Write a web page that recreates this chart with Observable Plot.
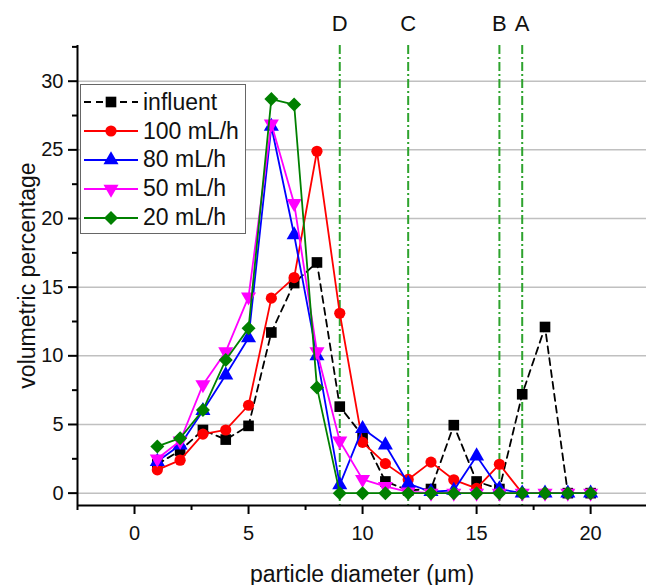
<!DOCTYPE html>
<html><head><meta charset="utf-8">
<script src="https://cdn.jsdelivr.net/npm/d3@7"></script>
<script src="https://cdn.jsdelivr.net/npm/@observablehq/plot@0.6"></script>
<style>
body{margin:0;background:#fff;font-family:"Liberation Sans",Arial,sans-serif}
#wrap{position:relative;width:646px;height:585px}
#legend{position:absolute;left:80px;top:84px;width:166px;height:150px;border:1.5px solid #666;background:#fff;box-sizing:border-box;padding-top:3px}
.item{display:flex;align-items:center;height:28.8px}
.item svg{margin-left:2px;margin-right:4px}
.item span{font-size:23px;color:#111;line-height:1}
</style></head><body><div id="wrap"><div id="legend"></div></div>
<script>
const diameters = [1,2,3,4,5,6,7,8,9,10,11,12,13,14,15,16,17,18,19,20];
const seriesNames = ["influent","100 mL/h","80 mL/h","50 mL/h","20 mL/h"];
const influent = [2.1,3.1,4.6,3.9,4.9,11.7,15.3,16.8,6.3,4.2,0.85,0.2,0.3,4.95,0.85,0.3,7.2,12.1,0,0];
const f100 = [1.7,2.4,4.3,4.6,6.4,14.2,15.7,24.9,13.1,3.7,2.15,1.0,2.26,0.97,0.35,2.1,0,0,0,0];
const f80 = [2.3,3.5,6.0,8.6,11.3,26.7,18.8,10.0,0.6,4.7,3.5,0.7,0.1,0.2,2.7,0.3,0,0,0,0];
const f50 = [2.5,3.8,7.9,10.3,14.3,26.9,21.1,10.3,3.8,1.0,0.5,0.1,0,0,0,0,0,0,0,0];
const f20 = [3.4,4.0,6.05,9.7,12.0,28.7,28.3,7.7,0,0,0,0,0,0,0,0,0,0,0,0];
const seriesValues = [influent,f100,f80,f50,f20];
const seriesColors = ["#000000","#ff0000","#0000ff","#ff00ff","#008000"];
const seriesSymbols = ["square","circle","triangle","triangle","diamond2"];
const seriesRotate = [0,0,0,180,0];
const seriesRadius = [6,5.6,5.6,5.6,6.3];
const seriesDash = ["7,5",null,null,null,null];
const zoneX = [9,12,16,17];
const zoneLabels = ["D","C","B","A"];
const xTicks = [0,5,10,15,20];
const xMinor = [-2.5,2.5,7.5,12.5,17.5];
const yTicks = [0,5,10,15,20,25,30];
const yMinor = [2.5,7.5,12.5,17.5,22.5,27.5,32.5];
const xDomain = [-2.5,22.45];
const yDomain = [-0.9,32.6];
const xTitle = "particle diameter (\u03bcm)";
const yTitle = "volumetric percentage";

const font = "Liberation Sans, Arial, sans-serif";
const marks = [
  Plot.gridY(yTicks, {stroke:"#c0c0c0", strokeOpacity:1, strokeWidth:1.5}),
  Plot.ruleX(zoneX, {stroke:"#2ea32e", strokeWidth:2, strokeDasharray:"9,3,2,3"}),
  Plot.text(zoneX, {x: d=>d, text: (d,i)=>zoneLabels[i], frameAnchor:"top", dy:-30, fontSize:22, fill:"#111"}),
];
seriesValues.forEach((vals, s) => {
  const rows = diameters.map((d,i)=>({x:d, y:vals[i]}));
  marks.push(Plot.line(rows, {x:"x", y:"y", stroke:seriesColors[s], strokeWidth:1.8, strokeDasharray:seriesDash[s] ?? undefined}));
  marks.push(Plot.dot(rows, {x:"x", y:"y", fill:seriesColors[s], symbol:seriesSymbols[s], r:seriesRadius[s], rotate:seriesRotate[s], stroke:"none"}));
});
marks.push(
  Plot.ruleX([xDomain[0]], {stroke:"#000", strokeWidth:2}),
  Plot.ruleY([yDomain[0]], {stroke:"#000", strokeWidth:2}),
  Plot.axisX({ticks:xTicks, tickSize:9, tickPadding:11, fontSize:20, label:null, strokeWidth:2, fill:"#111"}),
  Plot.axisX({ticks:xMinor, tickSize:5, text:null, label:null, strokeWidth:2}),
  Plot.axisY({ticks:yTicks, tickSize:9, tickPadding:5, fontSize:20, label:null, strokeWidth:2, fill:"#111"}),
  Plot.axisY({ticks:yMinor, tickSize:5, text:null, label:null, strokeWidth:2}),
  Plot.text([xTitle], {frameAnchor:"bottom", dy:76, fontSize:23, fill:"#111"}),
  Plot.text([yTitle], {frameAnchor:"left", textAnchor:"middle", dx:-50, rotate:-90, fontSize:23, fill:"#111"})
);

const chart = Plot.plot({
  width:646, height:585,
  marginLeft:77, marginRight:0, marginTop:45, marginBottom:80,
  style:{fontFamily:font, background:"#fff", overflow:"visible"},
  x:{domain:xDomain, axis:null},
  y:{domain:yDomain, axis:null},
  marks
});
const wrap = document.getElementById("wrap");
wrap.insertBefore(chart, wrap.firstChild);

const legend = d3.select("#legend");
const symMap = {square:d3.symbolSquare, circle:d3.symbolCircle, triangle:d3.symbolTriangle, diamond2:d3.symbolDiamond2};
seriesNames.forEach((name, s) => {
  const item = legend.append("div").attr("class","item");
  const svg = item.append("svg").attr("width",56).attr("height",20);
  svg.append("line").attr("x1",1).attr("x2",55).attr("y1",10).attr("y2",10)
    .attr("stroke",seriesColors[s]).attr("stroke-width",1.8)
    .attr("stroke-dasharray",seriesDash[s]);
  svg.append("path").attr("transform",`translate(28,10) rotate(${seriesRotate[s]})`)
    .attr("d", d3.symbol(symMap[seriesSymbols[s]], Math.PI*seriesRadius[s]**2)())
    .attr("fill",seriesColors[s]);
  item.append("span").text(name);
});
</script></body></html>
